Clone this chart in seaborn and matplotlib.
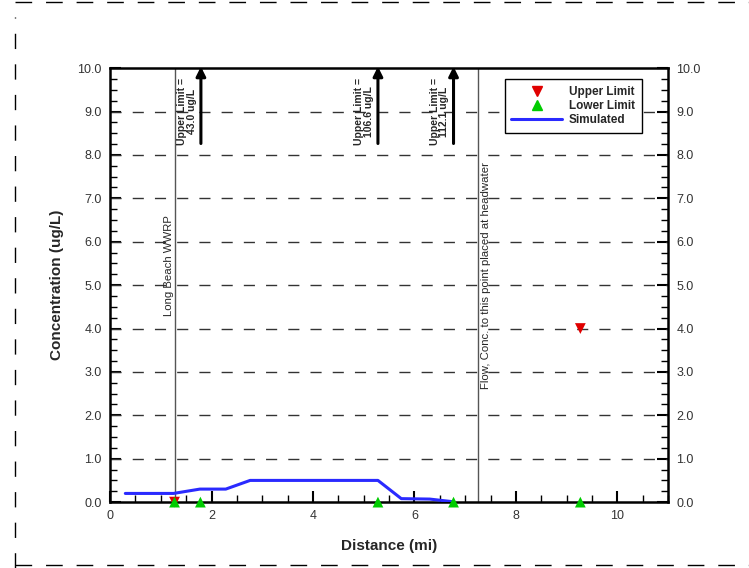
import matplotlib.pyplot as plt
import numpy as np
import pandas as pd
import seaborn as sns
from matplotlib.ticker import MultipleLocator, FormatStrFormatter
from matplotlib.lines import Line2D

sns.set_style('white')
plt.rcParams['font.family'] = ['Liberation Sans', 'DejaVu Sans']

# simulated concentration along the river
sim_dist = [0.3, 1.25, 1.77, 2.28, 2.76, 5.28, 5.74, 6.3, 6.75]
sim_conc = [0.2, 0.2, 0.3, 0.3, 0.5, 0.5, 0.08, 0.07, 0.01]

upper_dist = [1.27, 9.27]
upper_conc = [0.0, 4.0]
lower_dist = [1.27, 1.78, 5.28, 6.77, 9.27]
lower_conc = [0.0, 0.0, 0.0, 0.0, 0.0]

# upper limits that are off the chart
off_dist = [1.79, 5.28, 6.77]
off_text = ['Upper Limit =\n43.0 ug/L', 'Upper Limit =\n106.6 ug/L', 'Upper Limit =\n112.1 ug/L']

# marker lines
ref_dist = [1.27, 7.26]
ref_text = ['Long Beach WWRP', 'Flow, Conc. to this point placed at headwater']

fig = plt.figure(figsize=(7.49, 5.68), dpi=100)
ax = fig.add_axes([0.147, 0.116, 0.745, 0.764])

for yv in range(1, 10):
    ax.axhline(yv, color='#333333', lw=1.0, ls=(0, (8, 8)), zorder=1)
for xv in ref_dist:
    ax.axvline(xv, color='#555555', lw=1.0, zorder=1)

sns.lineplot(x=sim_dist, y=sim_conc, color='#2a2aff', lw=2.2, ax=ax, zorder=3)
sns.scatterplot(x=upper_dist, y=upper_conc, marker='v', color='#e00000', s=60,
                edgecolor='none', ax=ax, zorder=4, clip_on=False)
sns.scatterplot(x=lower_dist, y=lower_conc, marker='^', color='#00cc00', s=60,
                edgecolor='none', ax=ax, zorder=5, clip_on=False)

for xv, txt in zip(off_dist, off_text):
    ax.annotate('', xy=(xv, 10.1), xytext=(xv, 8.2), annotation_clip=False,
                arrowprops=dict(arrowstyle='-|>', color='black', lw=2.2, mutation_scale=14))
    ax.text(xv - 0.28, 9.77, txt, rotation=90, ha='center', va='top', fontsize=7.5,
            fontweight='bold', linespacing=0.95, multialignment='center')

ax.text(ref_dist[0] - 0.02, 4.3, ref_text[0], rotation=90, ha='right', va='bottom', fontsize=8.2)
ax.text(ref_dist[1] + 0.05, 2.6, ref_text[1], rotation=90, ha='left', va='bottom', fontsize=8.2)

ax.set_xlim(0, 11)
ax.set_ylim(0, 10)
ax.xaxis.set_major_locator(MultipleLocator(2))
ax.xaxis.set_minor_locator(MultipleLocator(0.5))
ax.yaxis.set_major_locator(MultipleLocator(1))
ax.yaxis.set_minor_locator(MultipleLocator(0.25))
ax.yaxis.set_major_formatter(FormatStrFormatter('%.1f'))
ax.tick_params(which='both', direction='in', left=True, right=True, bottom=True, top=False,
               labelright=True, labelsize=9, labelcolor='#333333', color='black', pad=6)
ax.tick_params(which='major', length=8, width=1.5)
ax.tick_params(which='minor', length=5, width=1)
for sp in ax.spines.values():
    sp.set_color('black')
    sp.set_linewidth(1.8)

ax.set_xlabel('Distance (mi)', fontsize=11, fontweight='bold', labelpad=12)
ax.set_ylabel('Concentration (ug/L)', fontsize=11, fontweight='bold', labelpad=10)

handles = [Line2D([], [], marker='v', color='#e00000', ls='none', markersize=7),
           Line2D([], [], marker='^', color='#00cc00', ls='none', markersize=7),
           Line2D([], [], color='#2a2aff', lw=2.2)]
leg = ax.legend(handles, ['Upper Limit', 'Lower Limit', 'Simulated'], loc='upper right',
                bbox_to_anchor=(0.963, 0.988), frameon=True, fancybox=False, framealpha=1,
                prop={'weight': 'bold', 'size': 8.5}, handlelength=4.3, labelspacing=0.2,
                borderpad=0.55, handletextpad=0.6)
leg.get_frame().set_edgecolor('black')
leg.get_frame().set_linewidth(1.0)

# dashed page border
fig.add_artist(Line2D([0.02, 1.0], [0.997, 0.997], transform=fig.transFigure,
                      color='black', lw=1.0, ls=(0, (12, 10))))
fig.add_artist(Line2D([0.02, 1.0], [0.005, 0.005], transform=fig.transFigure,
                      color='black', lw=1.0, ls=(0, (12, 10))))
fig.add_artist(Line2D([0.02, 0.02], [0.0, 0.97], transform=fig.transFigure,
                      color='black', lw=1.0, ls=(0, (11, 11))))

fig.savefig('out.png', dpi=100)
